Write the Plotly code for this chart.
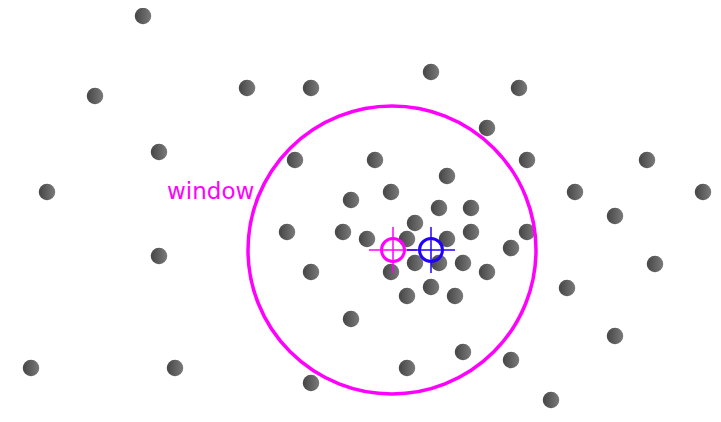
import plotly.graph_objects as go

# point coordinates (pixel-like data space, y down)
pts_x = [143, 95, 247, 311, 431, 519, 487, 159, 295, 375, 527, 647, 47, 391, 447, 575, 703,
         351, 439, 471, 615, 415, 287, 343, 367, 407, 447, 471, 527, 511, 159, 655, 311, 391,
         415, 439, 463, 487, 567, 407, 431, 455, 351, 615, 463, 511, 31, 175, 407, 311, 551]
pts_y = [16, 96, 88, 88, 72, 88, 128, 152, 160, 160, 160, 160, 192, 192, 176, 192, 192,
         200, 208, 208, 216, 223, 232, 232, 239, 239, 239, 232, 232, 248, 256, 264, 272, 272,
         263, 263, 263, 272, 288, 296, 287, 296, 319, 336, 352, 360, 368, 368, 368, 383, 400]

window_center = (392, 250)
window_radius = 144
window_label = "window"

start_center = (393, 250)   # magenta marker
mean_center = (431, 250)    # blue marker
marker_r = 11.5
cross_half = 24

fig = go.Figure()

fig.add_trace(go.Scatter(
    x=pts_x, y=pts_y, mode="markers",
    marker=dict(size=16.5, color="#454545", line=dict(width=0),
                gradient=dict(type="horizontal", color="#7a7a7a")),
    hoverinfo="skip", showlegend=False))

shapes = []
cx, cy = window_center
shapes.append(dict(type="circle", xref="x", yref="y",
                   x0=cx - window_radius, x1=cx + window_radius,
                   y0=cy - window_radius, y1=cy + window_radius,
                   line=dict(color="#ff00ff", width=3.5)))

def crosshair(c, color):
    x, y = c
    return [
        dict(type="line", xref="x", yref="y", x0=x - cross_half, x1=x + cross_half, y0=y, y1=y,
             line=dict(color=color, width=1.5)),
        dict(type="line", xref="x", yref="y", x0=x, x1=x, y0=y - cross_half + 1, y1=y + cross_half - 1,
             line=dict(color=color, width=1.5)),
        dict(type="circle", xref="x", yref="y", x0=x - marker_r, x1=x + marker_r,
             y0=y - marker_r, y1=y + marker_r, line=dict(color=color, width=3)),
    ]

shapes += crosshair(start_center, "#ff00ff")
shapes += crosshair(mean_center, "#2200ff")

# page body has an 8px margin; map data coordinates to page pixels
fig.update_layout(
    width=713, height=414,
    margin=dict(l=0, r=0, t=0, b=0),
    paper_bgcolor="white", plot_bgcolor="white",
    xaxis=dict(range=[8, 721], visible=False, fixedrange=True),
    yaxis=dict(range=[422, 8], visible=False, fixedrange=True),
    shapes=shapes,
    annotations=[dict(x=cx - window_radius + 8, y=191, xref="x", yref="y", text=window_label,
                      showarrow=False, xanchor="right", yanchor="middle",
                      font=dict(family="DejaVu Sans", size=23, color="#ff00ff"))],
)

fig.write_html("out.html")
